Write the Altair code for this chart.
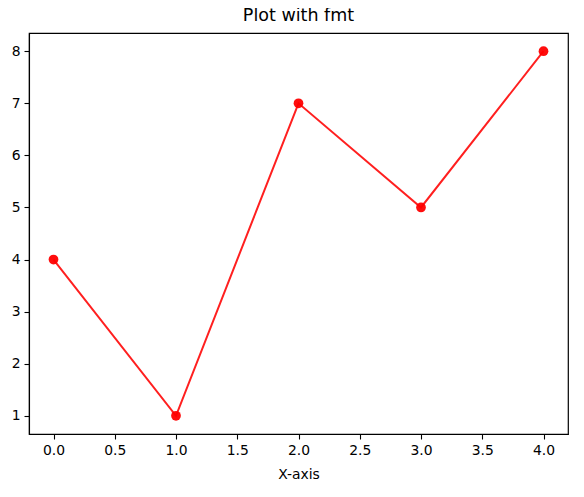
import altair as alt
import pandas as pd

x_vals = [0, 1, 2, 3, 4]
y_vals = [4, 1, 7, 5, 8]
x_ticks = [0.0, 0.5, 1.0, 1.5, 2.0, 2.5, 3.0, 3.5, 4.0]
y_ticks = [1, 2, 3, 4, 5, 6, 7, 8]

df = pd.DataFrame({"x": x_vals, "y": y_vals})

FONT = "DejaVu Sans"

x_enc = alt.X(
    "x:Q",
    scale=alt.Scale(domain=[-0.2, 4.2], nice=False, zero=False),
    axis=alt.Axis(
        title="X-axis",
        values=x_ticks,
        format=".1f",
        grid=False,
        tickSize=5,
        tickWidth=1.1,
        tickColor="black",
        domainColor="black",
        domainWidth=1.1,
        labelPadding=4,
        labelFontSize=13.9,
        labelColor="black",
        labelFont=FONT,
        titleFont=FONT,
        titleFontSize=13.9,
        titleFontWeight="normal",
        titleColor="black",
        titlePadding=11,
        labelFlush=False,
    ),
)
y_enc = alt.Y(
    "y:Q",
    scale=alt.Scale(domain=[0.65, 8.35], nice=False, zero=False),
    axis=alt.Axis(
        title=None,
        values=y_ticks,
        format="d",
        grid=False,
        tickSize=5,
        tickWidth=1.1,
        tickColor="black",
        domainColor="black",
        domainWidth=1.1,
        labelPadding=4,
        labelFontSize=13.9,
        labelColor="black",
        labelFont=FONT,
        labelFlush=False,
    ),
)

line = alt.Chart(df).mark_line(color="#ff0000", strokeWidth=2.0, opacity=0.88).encode(x=x_enc, y=y_enc)
pts = alt.Chart(df).mark_circle(color="#ff0000", size=95, opacity=0.95).encode(x="x:Q", y="y:Q")

chart = (
    alt.layer(line, pts)
    .properties(
        width=539,
        height=401,
        title=alt.TitleParams(
            "Plot with fmt",
            font=FONT,
            fontSize=17.5,
            fontWeight="normal",
            color="black",
            anchor="middle",
            offset=9,
        ),
        autosize=alt.AutoSizeParams(type="none"),
        padding={"left": 21, "top": 25, "right": 8, "bottom": 55},
    )
    .configure(background="white")
    .configure_view(stroke="#000000", strokeWidth=1.2, strokeOpacity=1)
)

chart.save("out.html", embed_options={"renderer": "svg", "actions": False})
